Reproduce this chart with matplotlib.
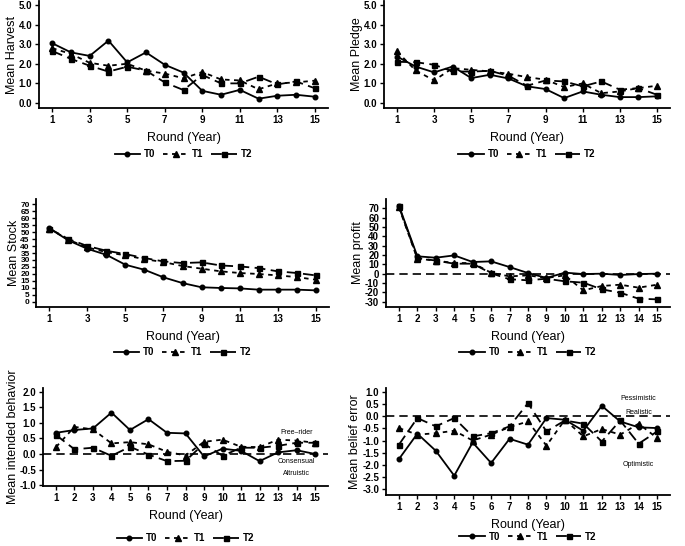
import matplotlib
matplotlib.use("Agg")
import matplotlib.pyplot as plt
from matplotlib.ticker import FormatStrFormatter
import numpy as np

plt.rcParams['font.family'] = ['Liberation Sans', 'DejaVu Sans']

rounds = np.arange(1, 16)

harvest_t0 = [3.05, 2.58, 2.4, 3.18, 2.07, 2.58, 1.95, 1.55, 0.62, 0.42, 0.67, 0.22, 0.37, 0.42, 0.32]
harvest_t1 = [2.8, 2.5, 2.05, 1.9, 2.0, 1.65, 1.5, 1.26, 1.58, 1.2, 1.15, 0.7, 1.0, 1.05, 1.14]
harvest_t2 = [2.65, 2.25, 1.9, 1.6, 1.85, 1.65, 1.05, 0.66, 1.43, 1.0, 1.0, 1.34, 0.95, 1.1, 0.75]

pledge_t0 = [2.37, 1.86, 1.56, 1.86, 1.27, 1.44, 1.25, 0.85, 0.71, 0.25, 0.59, 0.42, 0.3, 0.3, 0.34]
pledge_t1 = [2.63, 1.66, 1.15, 1.78, 1.69, 1.61, 1.49, 1.32, 1.19, 0.81, 1.0, 0.5, 0.59, 0.76, 0.88]
pledge_t2 = [2.1, 2.08, 1.95, 1.61, 1.6, 1.64, 1.39, 0.88, 1.15, 1.1, 0.85, 1.1, 0.68, 0.76, 0.42]

stock_t0 = [52.7, 44, 38, 33.7, 26.6, 23, 17.6, 13.5, 10.5, 10, 9.7, 8.8, 8.8, 8.8, 8.3]
stock_t1 = [52.5, 44.5, 39, 35.6, 33.3, 30.6, 28.5, 25.7, 23.8, 21.9, 20.7, 20, 19, 17.8, 15.9]
stock_t2 = [52.5, 45, 40, 36.6, 34.2, 31.4, 29, 27.8, 28.3, 26.1, 25.4, 24.2, 21.9, 20.7, 19]

profit_t0 = [72.9, 18.6, 17.1, 19.6, 12.5, 13.2, 7.1, 0.7, -4.6, 1.1, -0.4, 0, -1.4, -0.4, 0]
profit_t1 = [71, 16, 14, 11.4, 11.4, 1, -2.9, -1.8, -4.6, -1.8, -17.9, -13.2, -11.8, -15, -11.8]
profit_t2 = [72, 16.8, 14, 10.7, 10.7, 0.4, -6, -7.1, -5.4, -8.2, -9.6, -16.8, -20.4, -26.8, -27.5]

intent_t0 = [0.68, 0.77, 0.82, 1.33, 0.77, 1.12, 0.68, 0.66, -0.08, 0.17, 0.1, -0.23, 0.05, 0.12, 0.0]
intent_t1 = [0.22, 0.87, 0.79, 0.34, 0.38, 0.31, 0.07, -0.05, 0.39, 0.46, 0.23, 0.22, 0.46, 0.43, 0.36]
intent_t2 = [0.61, 0.15, 0.2, -0.06, 0.23, -0.02, -0.23, -0.22, 0.33, -0.06, 0.2, 0.2, 0.26, 0.36, 0.36]

belief_t0 = [-1.76, -0.72, -1.42, -2.44, -1.08, -1.92, -0.93, -1.17, -0.08, -0.15, -0.6, 0.42, -0.22, -0.46, -0.49]
belief_t1 = [-0.49, -0.76, -0.7, -0.6, -1.0, -0.76, -0.45, -0.22, -1.21, -0.15, -0.83, -0.53, -0.76, -0.31, -0.9]
belief_t2 = [-1.17, -0.08, -0.42, -0.08, -0.83, -0.7, -0.42, 0.53, -0.63, -0.18, -0.31, -1.04, -0.18, -1.13, -0.63]

W, H = 685, 546
fig = plt.figure(figsize=(W / 100, H / 100), dpi=100)


def make_ax(left, right, top, bottom):
    return fig.add_axes([left / W, 1 - bottom / H, (right - left) / W, (bottom - top) / H])


def draw(ax, t0, t1, t2, ylabel, ylim, yticks, fmt, all_x, legend_y, zero=False):
    if zero:
        ax.axhline(0, color='black', lw=1.2, ls=(0, (5, 3)), zorder=1)
    ax.plot(rounds, t0, color='black', lw=1.3, marker='o', ms=3.3, label='T0')
    ax.plot(rounds, t1, color='black', lw=1.3, ls=(0, (2.5, 2.5)), marker='^', ms=4.3, label='T1')
    ax.plot(rounds, t2, color='black', lw=1.3, ls=(0, (6, 3)), marker='s', ms=3.6, label='T2')
    ax.set_xlim(0.3, 15.7)
    ax.set_ylim(*ylim)
    ax.set_yticks(yticks)
    ax.yaxis.set_major_formatter(FormatStrFormatter(fmt))
    ax.set_xticks(rounds if all_x else rounds[::2])
    for s in ['top', 'right']:
        ax.spines[s].set_visible(False)
    for s in ['left', 'bottom']:
        ax.spines[s].set_linewidth(1.3)
    ax.tick_params(length=3, width=1, labelsize=7, pad=2)
    for lab in ax.get_xticklabels() + ax.get_yticklabels():
        lab.set_fontweight('bold')
    ax.set_ylabel(ylabel, fontsize=9, labelpad=0.5)
    ax.set_xlabel('Round (Year)', fontsize=9, labelpad=5)
    ax.legend(loc='center', bbox_to_anchor=(0.5, legend_y), ncol=3, frameon=False,
              handlelength=2.6, columnspacing=0.8, handletextpad=0.4,
              prop={'weight': 'bold', 'size': 7})
    return ax


ax1 = make_ax(39, 328, 1, 108)
draw(ax1, harvest_t0, harvest_t1, harvest_t2, 'Mean Harvest', (-0.255, 5.2),
     np.arange(0, 5.1, 1.0), '%.1f', False, -0.43)

ax2 = make_ax(384, 670, 1, 108)
draw(ax2, pledge_t0, pledge_t1, pledge_t2, 'Mean Pledge', (-0.255, 5.2),
     np.arange(0, 5.1, 1.0), '%.1f', False, -0.43)

ax3 = make_ax(36, 329, 199, 307)
draw(ax3, stock_t0, stock_t1, stock_t2, 'Mean Stock', (-3.6, 73.6),
     np.arange(0, 71, 5), '%d', False, -0.42)
ax3.tick_params(axis='y', labelsize=6, pad=1.5)

ax4 = make_ax(386, 670, 199, 307)
draw(ax4, profit_t0, profit_t1, profit_t2, 'Mean profit', (-35.7, 80),
     np.arange(-30, 71, 10), '%d', True, -0.42, zero=True)

ax5 = make_ax(43, 328, 388, 486)
draw(ax5, intent_t0, intent_t1, intent_t2, 'Mean intended behavior', (-1.03, 2.12),
     np.arange(-1.0, 2.01, 0.5), '%.1f', True, -0.53, zero=True)
ax5.text(14, 0.7, 'Free–rider', fontsize=5, ha='center', va='center')
ax5.text(14, -0.25, 'Consensual', fontsize=5, ha='center', va='center')
ax5.text(14, -0.62, 'Altruistic', fontsize=5, ha='center', va='center')

ax6 = make_ax(386, 670, 388, 495)
draw(ax6, belief_t0, belief_t1, belief_t2, 'Mean belief error', (-3.23, 1.15),
     np.arange(-3.0, 1.01, 0.5), '%.1f', True, -0.39, zero=True)
ax6.text(14, 0.7, 'Pessimistic', fontsize=5, ha='center', va='center')
ax6.text(14, 0.15, 'Realistic', fontsize=5, ha='center', va='center')
ax6.text(14, -2.0, 'Optimistic', fontsize=5, ha='center', va='center')

fig.savefig('out.png', dpi=100)
